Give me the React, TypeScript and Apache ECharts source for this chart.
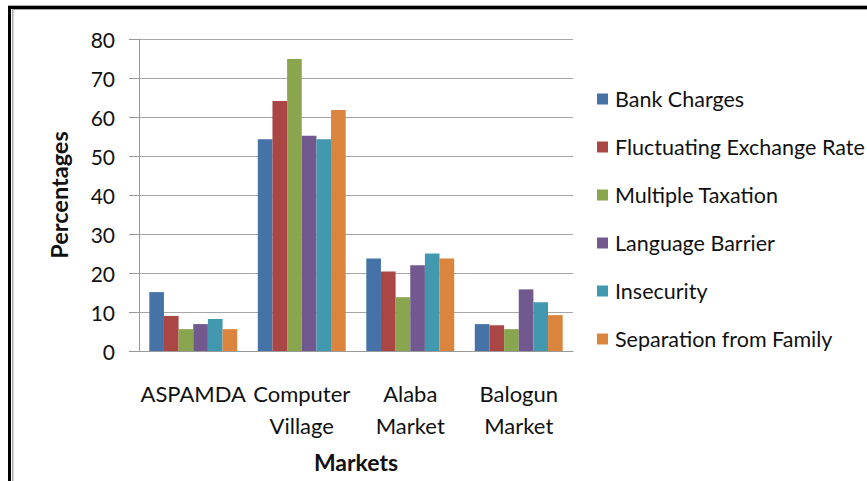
import React, { useEffect, useRef } from "react";
import * as echarts from "echarts";

const markets = ["ASPAMDA", "Computer\nVillage", "Alaba\nMarket", "Balogun\nMarket"];
const yTicks = [0, 10, 20, 30, 40, 50, 60, 70, 80];

const bankCharges = [15.1, 54.3, 23.7, 6.9];
const fluctuatingExchangeRate = [9.0, 64.1, 20.4, 6.6];
const multipleTaxation = [5.6, 74.9, 13.8, 5.6];
const languageBarrier = [6.9, 55.2, 22.0, 15.8];
const insecurity = [8.2, 54.3, 25.0, 12.5];
const separationFromFamily = [5.6, 61.8, 23.7, 9.2];

const seriesNames = [
  "Bank Charges",
  "Fluctuating Exchange Rate",
  "Multiple Taxation",
  "Language Barrier",
  "Insecurity",
  "Separation from Family",
];
const seriesData = [
  bankCharges,
  fluctuatingExchangeRate,
  multipleTaxation,
  languageBarrier,
  insecurity,
  separationFromFamily,
];
const colors = ["#4572A7", "#AA4643", "#89A54E", "#71588F", "#4198AF", "#DB843D"];

const FONT = "Lato";

export default function App() {
  const ref = useRef<HTMLDivElement>(null);
  useEffect(() => {
    if (!ref.current) return;
    const chart = echarts.init(ref.current, null, { renderer: "svg" });
    chart.setOption({
      animation: false,
      backgroundColor: "#fff",
      color: colors,
      textStyle: { fontFamily: FONT },
      grid: { left: 139, right: 294, top: 39, bottom: 130, containLabel: false },
      legend: {
        orient: "vertical",
        left: 597,
        top: 87,
        padding: 0,
        itemWidth: 11,
        itemHeight: 11,
        itemGap: 24,
        icon: "rect",
        textStyle: { fontFamily: FONT, fontSize: 21.5, color: "#111", lineHeight: 24, padding: [0, 0, 0, 2] },
        data: seriesNames,
      },
      xAxis: {
        type: "category",
        data: markets,
        name: "Markets",
        nameLocation: "middle",
        nameGap: 99,
        nameTextStyle: { fontFamily: FONT, fontSize: 23, fontWeight: "bold", color: "#111" },
        axisLine: { show: true, lineStyle: { color: "#999", width: 1 } },
        axisTick: { show: false },
        axisLabel: {
          fontFamily: FONT,
          fontSize: 22,
          color: "#111",
          lineHeight: 32,
          margin: 26,
          interval: 0,
        },
      },
      yAxis: {
        type: "value",
        min: yTicks[0],
        max: yTicks[yTicks.length - 1],
        interval: 10,
        name: "Percentages",
        nameLocation: "middle",
        nameRotate: 90,
        nameGap: 68,
        nameTextStyle: { fontFamily: FONT, fontSize: 23.5, fontWeight: "bold", color: "#111" },
        axisLine: { show: true, lineStyle: { color: "#999", width: 1 } },
        axisTick: { show: true, length: 10, lineStyle: { color: "#999" } },
        axisLabel: { fontFamily: FONT, fontSize: 21, color: "#111", margin: 24 },
        splitLine: { show: true, lineStyle: { color: "#a6a6a6", width: 1 } },
      },
      series: seriesNames.map((name, i) => ({
        name,
        type: "bar",
        data: seriesData[i],
        barGap: "0%",
        barCategoryGap: "19%",
        itemStyle: { color: colors[i] },
      })),
      graphic: [
        { type: "rect", shape: { x: 8, y: 5, width: 859, height: 1 }, style: { fill: "#aaa" }, silent: true },
        { type: "rect", shape: { x: 8, y: 6, width: 3, height: 475 }, style: { fill: "#000" }, silent: true },
        { type: "rect", shape: { x: 8, y: 6, width: 859, height: 3 }, style: { fill: "#000" }, silent: true },
        { type: "rect", shape: { x: 12, y: 9, width: 1.5, height: 472 }, style: { fill: "#aaa" }, silent: true },
        { type: "rect", shape: { x: 12, y: 9, width: 855, height: 1 }, style: { fill: "#aaa" }, silent: true },
      ],
    });
    return () => chart.dispose();
  }, []);
  return (
    <div
      ref={ref}
      style={{ position: "absolute", left: 0, top: 0, width: 867, height: 481, background: "#fff" }}
    />
  );
}
